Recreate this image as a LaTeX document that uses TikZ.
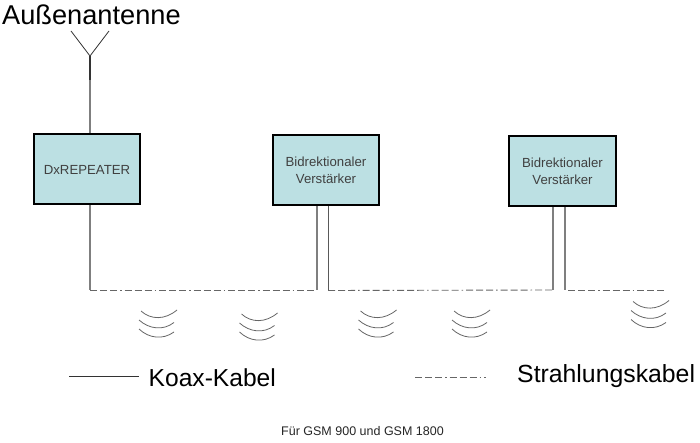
\documentclass[tikz,border=0pt]{standalone}
\usepackage{fontspec}
\setmainfont{Liberation Sans}
\definecolor{boxfill}{HTML}{BCE0E3}
\definecolor{coax}{HTML}{7F7F7F}
\definecolor{wavec}{HTML}{666666}
\tikzset{
  unitbox/.style={draw=black,line width=2pt,fill=boxfill,minimum width=106.5pt,minimum height=70pt,inner sep=0pt,align=center,font=\fontsize{13.2}{17}\selectfont,text=black!75},
  coaxline/.style={draw=coax,line width=1.1pt},
  thincoax/.style={draw=black!65,line width=.8pt},
  radcable/.style={draw=black!60,line width=.9pt,dash pattern=on 7pt off 3pt on 7pt off 3pt on 7pt off 3pt on 1.5pt off 3pt},
  wavearc/.style={draw=wavec,line width=.8pt},
  biglabel/.style={inner sep=0pt,anchor=base west,text=black},
}
\newcommand{\wavetrio}[2]{%
 \begin{scope}[shift={(#1,#2)}]
  \draw[wavearc] (2,-8) .. controls (12,1) and (26,1) .. (38,-9);
  \draw[wavearc] (0,1) .. controls (10,10) and (24,12) .. (35,3.5);
  \draw[wavearc] (0,10) .. controls (10,19.5) and (24,21) .. (35,13);
 \end{scope}}
\begin{document}
\begin{tikzpicture}[x=1pt,y=-1pt]
\useasboundingbox[fill=white] (0,0) rectangle (700,443);
% nodes
\node[unitbox] (rep) at (87,169.5) {DxREPEATER};
\node[unitbox] (amp1) at (326,170) {Bidrektionaler\\Verstärker};
\node[unitbox] (amp2) at (562.5,171.5) {Bidrektionaler\\Verstärker};
\node[biglabel,font=\fontsize{27.2}{32}\selectfont] (ant) at (2,25) {Außenantenne};
\node[biglabel,font=\fontsize{24.6}{28}\selectfont] (koax) at (148.5,386) {Koax-Kabel};
\node[biglabel,font=\fontsize{24.8}{28}\selectfont] (strl) at (517,382) {Strahlungskabel};
\node[biglabel,font=\fontsize{12.5}{14}\selectfont,text=black!85] (foot) at (281,435) {Für GSM 900 und GSM 1800};
% antenna
\coordinate (apex) at (90,56);
\coordinate (armL) at (71,31);
\coordinate (armR) at (109,31);
\coordinate (mid) at (90,80);
\draw[draw=black!80,line width=.8pt] (armL) -- (apex) -- (armR);
\draw[draw=black!80,line width=1.1pt] (apex) -- (mid);
\draw[coaxline] (mid) -- (mid |- rep.north);
% junctions
\coordinate (j0) at (90,290);
\coordinate (j1) at (317,290);
\coordinate (j2) at (328,290.5);
\coordinate (j3) at (553,290);
\coordinate (j4) at (565,289.5);
\coordinate (j5) at (568,290);
\coordinate (j6) at (666,290);
% coax drops
\draw[coaxline] (j0 |- rep.south) -- (j0);
\draw[coaxline] (j1 |- amp1.south) -- (j1);
\draw[thincoax] (j2 |- amp1.south) -- (j2);
\draw[coaxline] (j3 |- amp2.south) -- (j3);
\draw[coaxline] (j4 |- amp2.south) -- (j4);
% radiating cable
\draw[radcable] (j0) -- (j1);
\draw[radcable] (j2) -- (j3);
\draw[radcable] (j5) -- (j6);
% waves
\wavetrio{139}{319}
\wavetrio{239.5}{322}
\wavetrio{358.5}{319}
\wavetrio{452}{319}
\wavetrio{631}{309.5}
% legend
\coordinate (la) at (69,376.5);
\coordinate (lb) at (139,376.5);
\coordinate (lc) at (415,377);
\coordinate (ld) at (486,377);
\draw[draw=black!80,line width=.8pt] (la) -- (lb);
\draw[radcable] (lc) -- (ld);
\end{tikzpicture}
\end{document}
